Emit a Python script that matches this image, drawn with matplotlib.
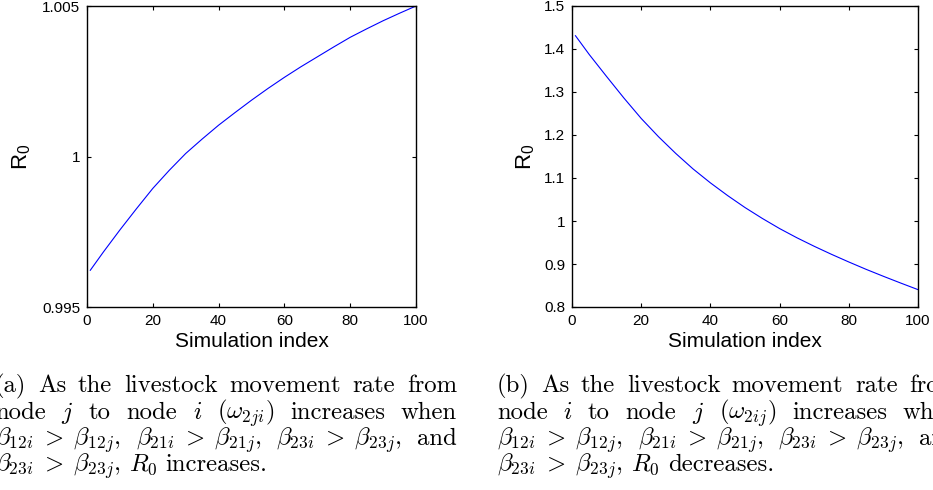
import matplotlib
matplotlib.use('Agg')
import matplotlib.pyplot as plt
from matplotlib.ticker import FuncFormatter

plt.rcParams['mathtext.fontset'] = 'cm'

# valores (índice de simulação x R0)
indice = [1, 5, 10, 15, 20, 25, 30, 35, 40, 45, 50,
          55, 60, 65, 70, 75, 80, 85, 90, 95, 100]
r0_a = [0.99622, 0.99683, 0.99756, 0.99826, 0.99894, 0.99954, 1.0001,
        1.00058, 1.00104, 1.00146, 1.00187, 1.00226, 1.00263, 1.00298,
        1.00331, 1.00364, 1.00396, 1.00424, 1.00451, 1.00476, 1.005]
r0_b = [1.4309, 1.387, 1.336, 1.286, 1.2385, 1.196, 1.157,
        1.121, 1.0887, 1.059, 1.0313, 1.006, 0.9824, 0.961,
        0.9412, 0.9225, 0.9047, 0.8876, 0.8714, 0.8557, 0.8404]

xticks = [0, 20, 40, 60, 80, 100]
yticks_a = [0.995, 1.0, 1.005]
yticks_b = [0.8, 0.9, 1.0, 1.1, 1.2, 1.3, 1.4, 1.5]

legenda_a = [
    ['(a)', 'As', 'the', 'livestock', 'movement', 'rate', 'from'],
    ['node', '$j$', 'to', 'node', '$i$', r'($\omega_{2ji}$)', 'increases', 'when'],
    [r'$\beta_{12i} \;>\; \beta_{12j}$,', r'$\beta_{21i} \;>\; \beta_{21j}$,',
     r'$\beta_{23i} \;>\; \beta_{23j}$,', 'and'],
    [r'$\beta_{23i} \;>\; \beta_{23j}$,', '$R_0$', 'increases.'],
]
legenda_b = [
    ['(b)', 'As', 'the', 'livestock', 'movement', 'rate', 'from'],
    ['node', '$i$', 'to', 'node', '$j$', r'($\omega_{2ij}$)', 'increases', 'when'],
    [r'$\beta_{12i} \;>\; \beta_{12j}$,', r'$\beta_{21i} \;>\; \beta_{21j}$,',
     r'$\beta_{23i} \;>\; \beta_{23j}$,', 'and'],
    [r'$\beta_{23i} \;>\; \beta_{23j}$,', '$R_0$', 'decreases.'],
]

W, H = 933, 490
fig = plt.figure(figsize=(W / 100, H / 100), dpi=100)

sans = 'Liberation Sans'
tick_fs = 11
label_fs = 15
cap_fs = 17.8


def fmt(v, pos):
    return '%g' % round(v, 4)


def painel(rect, y, yticks, ylim, label_x):
    ax = fig.add_axes(rect)
    ax.plot(indice, y, color='#0000ff', linewidth=0.8)
    ax.set_xlim(0, 100)
    ax.set_ylim(*ylim)
    ax.set_xticks(xticks)
    ax.set_yticks(yticks)
    ax.yaxis.set_major_formatter(FuncFormatter(fmt))
    ax.tick_params(direction='in', length=3, width=0.8, top=True, right=True,
                   labelsize=tick_fs, pad=5)
    for lb in ax.get_xticklabels() + ax.get_yticklabels():
        lb.set_fontfamily(sans)
    for s in ax.spines.values():
        s.set_linewidth(1.0)
    ax.set_xlabel('Simulation index', fontsize=label_fs, family=sans, labelpad=3)
    ax.set_ylabel(r'$\mathregular{R_0}$', fontsize=label_fs + 1, family=sans)
    ax.yaxis.set_label_coords(label_x, 0.5)
    return ax


painel([87 / W, 1 - 307 / H, 329 / W, 301 / H], r0_a, yticks_a, (0.995, 1.005), -0.165)
painel([572 / W, 1 - 307 / H, 346 / W, 301 / H], r0_b, yticks_b, (0.8, 1.5), -0.10)

renderer = fig.canvas.get_renderer()


def legenda(linhas, x0, x1, bases):
    for k, (linha, yb) in enumerate(zip(linhas, bases)):
        y = 1 - yb / H
        txts = [fig.text(0, y, p, fontsize=cap_fs, family='cmr10', va='baseline') for p in linha]
        larg = [t.get_window_extent(renderer).width for t in txts]
        if k == len(linhas) - 1:
            gap = 0.33 * cap_fs * 100 / 72
        else:
            gap = (x1 - x0 - sum(larg)) / (len(txts) - 1)
        x = x0
        for t, w in zip(txts, larg):
            t.set_x(x / W)
            x += w + gap


bases = [392, 419, 445, 471]
legenda(legenda_a, -5, 457, bases)
legenda(legenda_b, 497, 959, bases)

fig.savefig('out.png', dpi=100)
